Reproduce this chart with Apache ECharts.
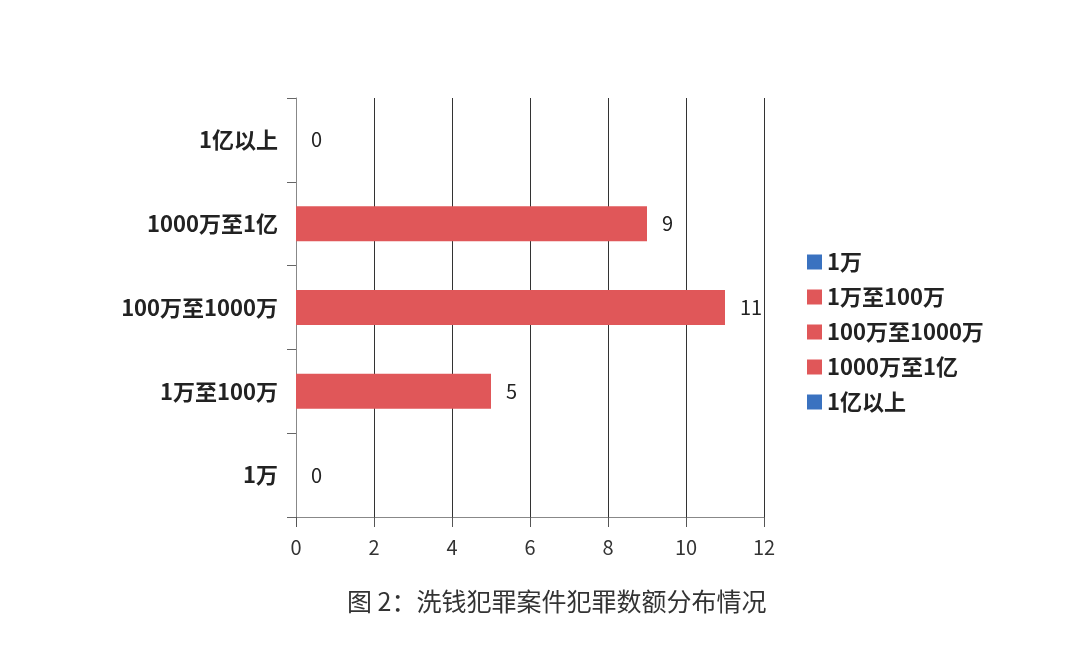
<!DOCTYPE html>
<html><head><meta charset="utf-8">
<script src="https://cdn.jsdelivr.net/npm/echarts@6/dist/echarts.min.js"></script>
<style>html,body{margin:0;padding:0;background:#fff}#c{width:1080px;height:649px}</style>
</head><body><div id="c"></div>
<script>
const categories = ['1万', '1万至100万', '100万至1000万', '1000万至1亿', '1亿以上'];
const values = [0, 5, 11, 9, 0];
const xTicks = [0, 2, 4, 6, 8, 10, 12];
const titleText = '图 2：洗钱犯罪案件犯罪数额分布情况';
const colors = ['#3a72c0', '#e05759', '#e05759', '#e05759', '#3a72c0'];

const font = '"Noto Sans CJK SC", "Noto Sans", sans-serif';
const series = categories.map((name, i) => ({
  name: name,
  type: 'bar',
  barWidth: 35,
  barGap: '-100%',
  itemStyle: { color: colors[i] },
  label: { show: true, position: 'right', distance: 15, fontSize: 20, color: '#222', fontFamily: font },
  data: categories.map((c, j) => j === i ? values[i] : null)
}));

const chart = echarts.init(document.getElementById('c'));
chart.setOption({
  animation: false,
  textStyle: { fontFamily: font },
  title: {
    text: titleText, left: 342, top: 584,
    textStyle: { fontSize: 25, fontWeight: 'normal', color: '#333', fontFamily: font }
  },
  legend: {
    orient: 'vertical', left: 802, top: 246, itemWidth: 15, itemHeight: 15, itemGap: 13,
    icon: 'rect',
    data: categories,
    textStyle: { fontSize: 22, fontWeight: 'bold', color: '#222', fontFamily: font }
  },
  grid: { left: 296, right: 316, top: 98, bottom: 132, containLabel: false },
  xAxis: {
    type: 'value', min: xTicks[0], max: xTicks[xTicks.length - 1], interval: 2,
    axisLine: { show: true, lineStyle: { color: '#888', width: 1 } },
    axisTick: { show: true, length: 10, lineStyle: { color: '#555' } },
    splitLine: { show: true, lineStyle: { color: '#333', width: 1 } },
    axisLabel: { fontSize: 20, color: '#333', margin: 20, fontFamily: font }
  },
  yAxis: {
    type: 'category', data: categories,
    axisLine: { show: true, lineStyle: { color: '#888', width: 1 } },
    axisTick: { show: true, length: 9, lineStyle: { color: '#666' } },
    axisLabel: { fontSize: 22, fontWeight: 'bold', color: '#222', margin: 18, fontFamily: font }
  },
  series: series
});
</script></body></html>
